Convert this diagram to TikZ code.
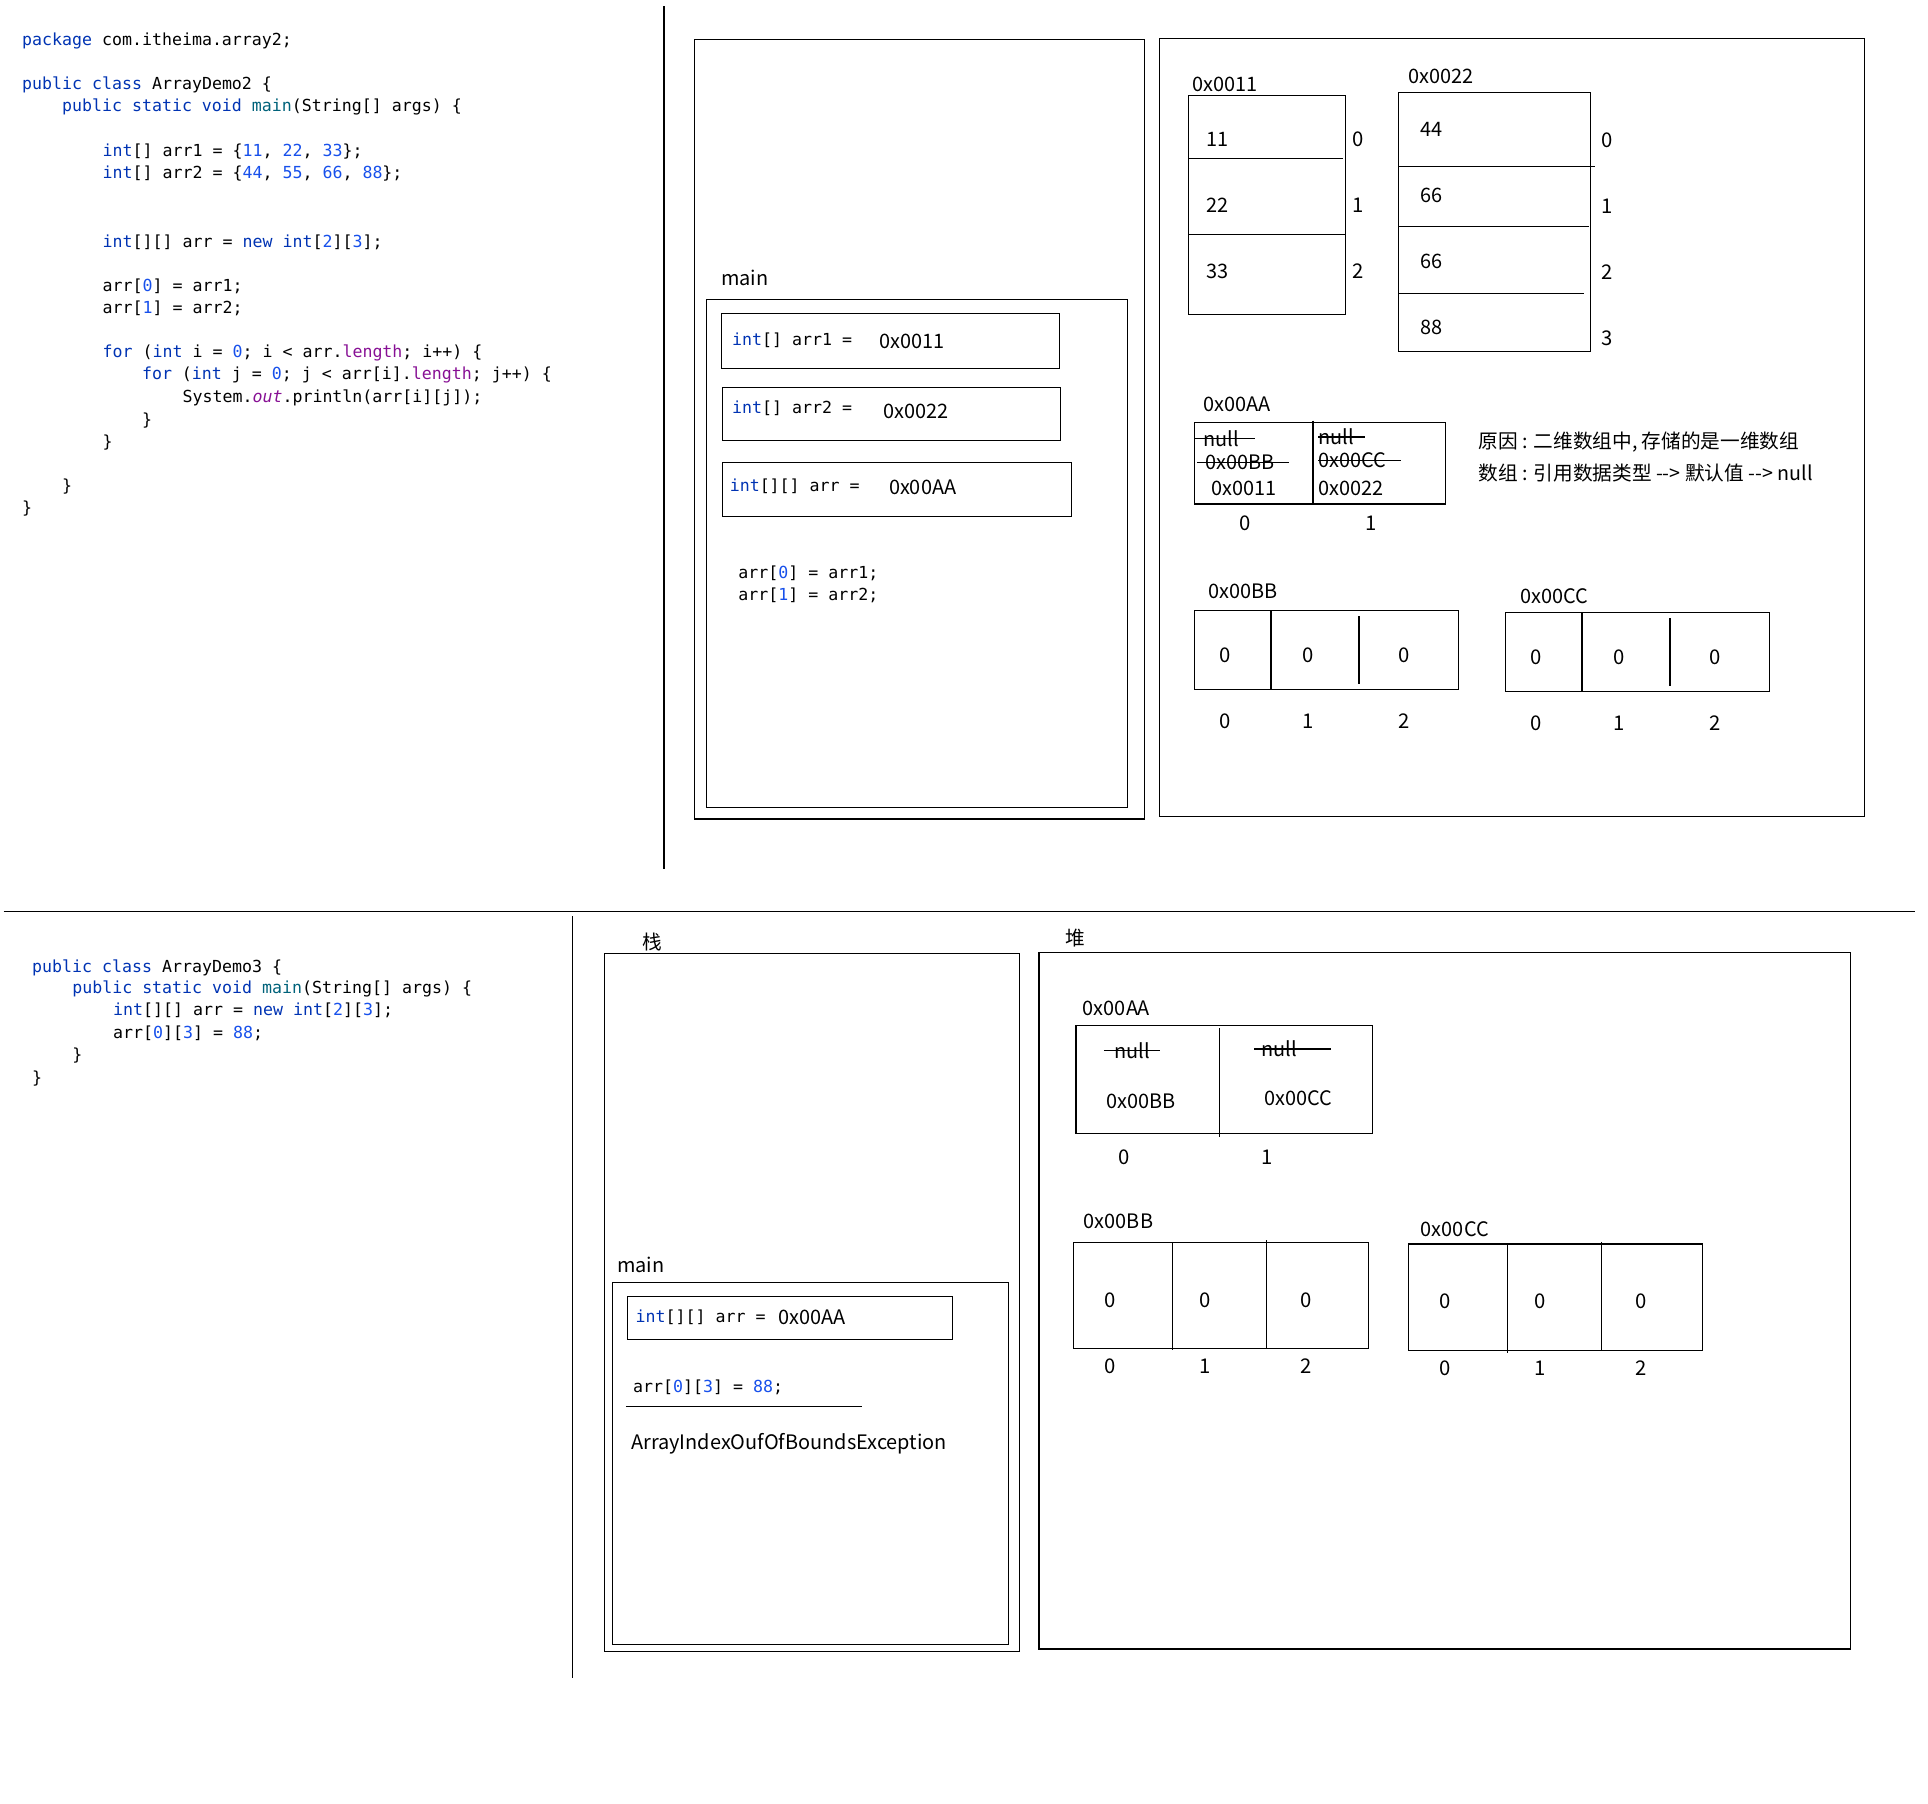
\documentclass[tikz,border=0pt]{standalone}
\usepackage{fontspec}
\setmainfont{Noto Sans CJK SC}
\setmonofont{DejaVu Sans Mono}
\definecolor{kwblue}{HTML}{0033B3}
\definecolor{numblue}{HTML}{1750EB}
\definecolor{fieldpurple}{HTML}{871094}
\definecolor{methodteal}{HTML}{00627A}
\newcommand{\jkw}[1]{\textcolor{kwblue}{#1}}
\newcommand{\jnum}[1]{\textcolor{numblue}{#1}}
\newcommand{\jfld}[1]{\textcolor{fieldpurple}{#1}}
\newcommand{\jmth}[1]{\textcolor{methodteal}{#1}}

\begin{document}
\begin{tikzpicture}[x=1pt, y=-1pt, line width=1pt,
    javacode/.style={inner sep=0pt, anchor=base west, font=\ttfamily\fontsize{13.5}{18}\selectfont},
    lbl/.style={inner sep=0pt, anchor=base west, font=\fontsize{16.2}{20}\selectfont},
    idx/.style={inner sep=0pt, anchor=base, font=\fontsize{16.5}{20}\selectfont},
    memo/.style={inner sep=0pt, anchor=base west, font=\fontsize{16}{20}\selectfont}]
    \useasboundingbox (0,0) rectangle (1568,1467);

    % 分隔线
    \draw (540,5) -- (540,707);
    \draw (3,741.4) -- (1557,741.4);
    \draw (465.6,745) -- (465.6,1365);

    % (a) ArrayDemo2 代码
    \node[javacode] (c1) at (17.5,37) {\jkw{package} com.itheima.array2;};
    \node[javacode] (c2) at (17.5,73) {\jkw{public class} ArrayDemo2 \{};
    \node[javacode] (c3) at (50,91) {\jkw{public static void} \jmth{main}(String[] args) \{};
    \node[javacode] (c4) at (83,127) {\jkw{int}[] arr1 = \{\jnum{11}, \jnum{22}, \jnum{33}\};};
    \node[javacode] (c5) at (83,145) {\jkw{int}[] arr2 = \{\jnum{44}, \jnum{55}, \jnum{66}, \jnum{88}\};};
    \node[javacode] (c6) at (83,201) {\jkw{int}[][] arr = \jkw{new} \jkw{int}[\jnum{2}][\jnum{3}];};
    \node[javacode] (c7) at (83,237) {arr[\jnum{0}] = arr1;};
    \node[javacode] (c8) at (83,255) {arr[\jnum{1}] = arr2;};
    \node[javacode] (c9) at (83,291) {\jkw{for} (\jkw{int} i = \jnum{0}; i < arr.\jfld{length}; i++) \{};
    \node[javacode] (c10) at (115,309) {\jkw{for} (\jkw{int} j = \jnum{0}; j < arr[i].\jfld{length}; j++) \{};
    \node[javacode] (c11) at (148,327) {System.\jfld{\itshape out}.println(arr[i][j]);};
    \node[javacode] (c12) at (115,346) {\}}; \node[javacode] (c13) at (83,364) {\}};
    \node[javacode] (c14) at (50,400) {\}}; \node[javacode] (c15) at (17.5,418) {\}};

    % (a) 栈
    \draw (565,32) rectangle (930.5,666);
    \node[lbl] (mainA) at (586,232.5) {main};
    \draw (574.5,243.5) rectangle (917,657);
    \draw (587,255) rectangle (861.5,300);
    \node[javacode] (sA1) at (595,281) {\jkw{int}[] arr1 =}; \node[lbl] (sA1v) at (715,283.5) {0x0011};
    \draw (587.5,315.3) rectangle (862.3,358);
    \node[javacode] (sA2) at (595,336) {\jkw{int}[] arr2 =}; \node[lbl] (sA2v) at (718,340) {0x0022};
    \draw (587.5,376.3) rectangle (871.2,420);
    \node[javacode] (sA3) at (593,399.4) {\jkw{int}[][] arr =}; \node[lbl] (sA3v) at (722.5,402.2) {0x00AA};
    \node[javacode] (sA4) at (600,470.8) {arr[\jnum{0}] = arr1;};
    \node[javacode] (sA5) at (600,488.7) {arr[\jnum{1}] = arr2;};

    % (a) 堆
    \draw (943,31) rectangle (1516.5,664.2);
    % 0x0011
    \node[lbl] (h11) at (969,74.6) {0x0011};
    \draw (966.6,77.8) rectangle (1094,255.6);
    \draw (966.6,128.8) -- (1092,128.8) (966.6,190.6) -- (1095,190.6);
    \node[lbl] (h11v0) at (981,119.3) {11}; \node[idx] (h11i0) at (1104.5,119.3) {0};
    \node[lbl] (h11v1) at (981,172.7) {22}; \node[idx] (h11i1) at (1104.5,172.7) {1};
    \node[lbl] (h11v2) at (981,226.4) {33}; \node[idx] (h11i2) at (1104.5,226.4) {2};
    % 0x0022
    \node[lbl] (h22) at (1145,67.8) {0x0022};
    \draw (1137.1,75.1) rectangle (1293.8,286);
    \draw (1137.1,135.3) -- (1296.8,135.3) (1137.1,184.1) -- (1292,184.1) (1137.1,238.5) -- (1288.5,238.5);
    \node[lbl] (h22v0) at (1155,110.9) {44}; \node[idx] (h22i0) at (1307,119.8) {0};
    \node[lbl] (h22v1) at (1155,164.6) {66}; \node[idx] (h22i1) at (1307,173.5) {1};
    \node[lbl] (h22v2) at (1155,218.3) {66}; \node[idx] (h22i2) at (1307,227.2) {2};
    \node[lbl] (h22v3) at (1155,271.7) {88}; \node[idx] (h22i3) at (1307,281.1) {3};
    % 0x00AA
    \node[lbl] (hAA) at (978,334.6) {0x00AA};
    \draw (971.5,343.7) rectangle (1175.8,409.9);
    \draw (1067.8,342.1) -- (1067.8,409.9);
    \node[lbl] (hAAn0) at (978,362.8) {null};
    \node[lbl] (hAAb0) at (980,382) {0x00BB};
    \node[lbl] (hAAv0) at (984.6,402.6) {0x0011};
    \node[lbl] (hAAn1) at (1072,361.7) {null};
    \node[lbl] (hAAb1) at (1072,380.6) {0x00CC};
    \node[lbl] (hAAv1) at (1072,403.2) {0x0022};
    \draw ([xshift=-6.5pt]hAAn0.west) -- ([xshift=13pt]hAAn0.east);
    \draw ([xshift=-6.5pt]hAAb0.west) -- ([xshift=11pt]hAAb0.east);
    \draw (hAAn1.west) -- ([xshift=8pt]hAAn1.east);
    \draw (hAAb1.west) -- ([xshift=11pt]hAAb1.east);
    \node[idx] (hAAi0) at (1013,431.6) {0}; \node[idx] (hAAi1) at (1115,431.6) {1};
    \node[memo] (why) at (1202,364.4) {原因 : 二维数组中, 存储的是一维数组};
    \node[memo] (dflt) at (1202,391) {数组 : 引用数据类型 -{}-> 默认值 -{}-> null};
    % 0x00BB
    \node[lbl] (hBB) at (982,486.4) {0x00BB};
    \draw (971.5,496.7) rectangle (1186.2,560.6);
    \draw (1033.7,496.7) -- (1033.7,560.6) (1105.3,501) -- (1105.3,556.2);
    \node[idx] (hBBv0) at (996.6,538.7) {0}; \node[idx] (hBBv1) at (1064.1,538.7) {0}; \node[idx] (hBBv2) at (1142,538.7) {0};
    \node[idx] (hBBi0) at (996.6,592.1) {0}; \node[idx] (hBBi1) at (1064.1,592.1) {1}; \node[idx] (hBBi2) at (1142,592.1) {2};
    % 0x00CC
    \node[lbl] (hCC) at (1235.7,490.7) {0x00CC};
    \draw (1224.5,498) rectangle (1439.2,562.5);
    \draw (1286.6,498) -- (1286.6,562.5) (1358.2,502.9) -- (1358.2,557.6);
    \node[idx] (hCCv0) at (1249.6,540.1) {0}; \node[idx] (hCCv1) at (1317.1,540.1) {0}; \node[idx] (hCCv2) at (1395,540.1) {0};
    \node[idx] (hCCi0) at (1249.6,593.7) {0}; \node[idx] (hCCi1) at (1317.1,593.7) {1}; \node[idx] (hCCi2) at (1395,593.7) {2};

    % (b) ArrayDemo3 代码
    \node[javacode] (d1) at (25.7,790.7) {\jkw{public class} ArrayDemo3 \{};
    \node[javacode] (d2) at (58.3,808.3) {\jkw{public static void} \jmth{main}(String[] args) \{};
    \node[javacode] (d3) at (91.6,826) {\jkw{int}[][] arr = \jkw{new} \jkw{int}[\jnum{2}][\jnum{3}];};
    \node[javacode] (d4) at (91.6,844.4) {arr[\jnum{0}][\jnum{3}] = \jnum{88};};
    \node[javacode] (d5) at (58.3,862.5) {\}}; \node[javacode] (d6) at (25.7,881.5) {\}};

    % (b) 栈
    \node[inner sep=0pt, font=\fontsize{16}{20}\selectfont] (zhan) at (530.6,766) {栈};
    \draw (491.5,775.6) rectangle (829,1343);
    \node[lbl] (mainB) at (501.5,1035.2) {main};
    \draw (498.3,1042.8) rectangle (820.4,1337.7);
    \draw (510.2,1054.4) rectangle (774.5,1089.4);
    \node[javacode] (sB1) at (516.4,1075.7) {\jkw{int}[][] arr =}; \node[lbl] (sB1v) at (632.5,1077.2) {0x00AA};
    \node[javacode] (sB2) at (514.5,1132.1) {arr[\jnum{0}][\jnum{3}] = \jnum{88};};
    \draw (509.1,1144) -- (700.8,1144);
    \node[lbl] (err) at (512.9,1178.5) {ArrayIndexOufOfBoundsException};

    % (b) 堆
    \node[inner sep=0pt, font=\fontsize{16}{20}\selectfont] (dui) at (874.6,763.1) {堆};
    \draw (845,774.5) rectangle (1505,1341);
    % 0x00AA
    \node[lbl] (gAA) at (880.2,826) {0x00AA};
    \draw (875,834.2) rectangle (1116.4,921.7);
    \draw (992,836.4) -- (992,925);
    \node[lbl] (gAAn0) at (905.8,860.5) {null}; \node[lbl] (gAAn1) at (1025.6,859.4) {null};
    \draw ([xshift=-8pt]gAAn0.west) -- ([xshift=8pt]gAAn0.east);
    \draw ([xshift=-5.4pt]gAAn1.west) -- ([xshift=27pt]gAAn1.east);
    \node[lbl] (gAAb0) at (899.4,901.4) {0x00BB}; \node[lbl] (gAAb1) at (1027.6,899.2) {0x00CC};
    \node[idx] (gAAi0) at (914.6,947.2) {0}; \node[idx] (gAAi1) at (1030.3,947.2) {1};
    % 0x00BB
    \node[lbl] (gBB) at (881,998.7) {0x00BB};
    \draw (873.3,1010.4) rectangle (1113,1096.6);
    \draw (953.7,1010.4) -- (953.7,1098) (1030.2,1008.8) -- (1030.2,1096.6);
    \node[idx] (gBBv0) at (902.8,1063.2) {0}; \node[idx] (gBBv1) at (980.2,1063.2) {0}; \node[idx] (gBBv2) at (1062.4,1063.2) {0};
    \node[idx] (gBBi0) at (902.8,1117) {0}; \node[idx] (gBBi1) at (980.2,1117) {1}; \node[idx] (gBBi2) at (1062.4,1117) {2};
    % 0x00CC
    \node[lbl] (gCC) at (1155.1,1005.5) {0x00CC};
    \draw (1145.5,1011.7) rectangle (1384.7,1098.4);
    \draw (1226.3,1011.7) -- (1226.3,1100) (1302.4,1010) -- (1302.4,1098.4);
    \node[idx] (gCCv0) at (1175.5,1064.5) {0}; \node[idx] (gCCv1) at (1252.5,1064.5) {0}; \node[idx] (gCCv2) at (1334.3,1064.5) {0};
    \node[idx] (gCCi0) at (1175.5,1118.9) {0}; \node[idx] (gCCi1) at (1252.5,1118.9) {1}; \node[idx] (gCCi2) at (1334.3,1118.9) {2};
\end{tikzpicture}
\end{document}
